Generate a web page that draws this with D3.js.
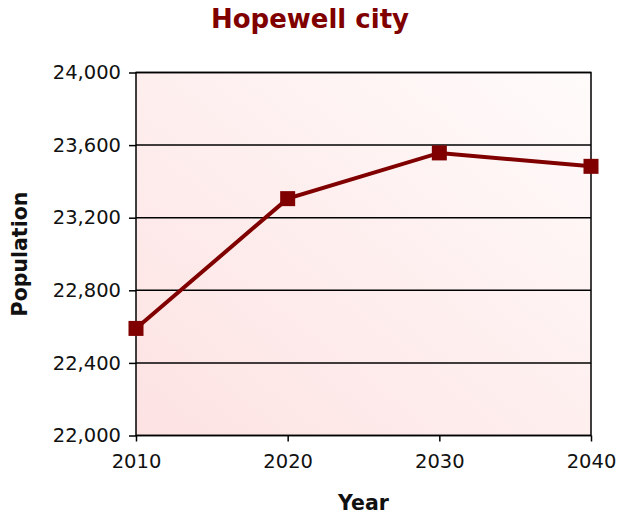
<!DOCTYPE html>
<html>
<head>
<meta charset="utf-8">
<script src="https://cdn.jsdelivr.net/npm/d3@7"></script>
<style>
  body { margin: 0; background: #fff; }
  text { font-family: "DejaVu Sans", Verdana, sans-serif; }
</style>
</head>
<body>
<svg id="chart"></svg>
<script>
// chart data
const years = [2010, 2020, 2030, 2040]
const population = [22590, 23305, 23557, 23483]
const yTicks = [22000, 22400, 22800, 23200, 23600, 24000]
const title = "Hopewell city"

const width = 618, height = 517
const margin = { top: 72.5, right: 27, bottom: 81.5, left: 136 }
const tickFont = 19.5

const svg = d3.select("#chart").attr("width", width).attr("height", height)

const x = d3.scaleLinear()
    .domain([2010, 2040])
    .range([margin.left, width - margin.right])
const y = d3.scaleLinear()
    .domain([22000, 24000])
    .range([height - margin.bottom, margin.top])

// background gradient, pink at bottom left fading to white top right
const defs = svg.append("defs")
const grad = defs.append("linearGradient")
    .attr("id", "bg")
    .attr("x1", "0%").attr("y1", "100%")
    .attr("x2", "100%").attr("y2", "0%")
grad.append("stop").attr("offset", "0%").attr("stop-color", "#fde2e2")
grad.append("stop").attr("offset", "100%").attr("stop-color", "#fffbfb")

svg.append("rect")
    .attr("x", x(2010)).attr("y", y(24000))
    .attr("width", x(2040) - x(2010))
    .attr("height", y(22000) - y(24000))
    .attr("fill", "url(#bg)")

// gridlines
svg.append("g").selectAll("line").data(yTicks).enter().append("line")
    .attr("x1", x(2010)).attr("x2", x(2040))
    .attr("y1", d => y(d)).attr("y2", d => y(d))
    .attr("stroke", "#000").attr("stroke-width", 1.5)

// y axis
const yAxis = d3.axisLeft(y).tickValues(yTicks).tickSize(7).tickPadding(8)
    .tickFormat(d3.format(","))
const yG = svg.append("g")
    .attr("transform", `translate(${x(2010)},0)`)
    .call(yAxis)
yG.select(".domain").remove()
yG.selectAll("line").attr("stroke-width", 1.5)
yG.selectAll("text").attr("fill", "#111")
    .style("font-size", tickFont + "px")
    .style("font-family", "'DejaVu Sans', Verdana, sans-serif")

// x axis
const xAxis = d3.axisBottom(x).tickValues(years).tickSize(6).tickPadding(13)
    .tickFormat(d3.format("d"))
const xG = svg.append("g")
    .attr("transform", `translate(0,${y(22000)})`)
    .call(xAxis)
xG.select(".domain").remove()
xG.selectAll("line").attr("stroke-width", 1.5)
xG.selectAll("text").attr("fill", "#111")
    .style("font-size", tickFont + "px")
    .style("font-family", "'DejaVu Sans', Verdana, sans-serif")

// plot frame
svg.append("rect")
    .attr("x", x(2010)).attr("y", y(24000))
    .attr("width", x(2040) - x(2010))
    .attr("height", y(22000) - y(24000))
    .attr("fill", "none").attr("stroke", "#000").attr("stroke-width", 1.5)

// line and markers
const pts = years.map((d, i) => [d, population[i]])
const line = d3.line().x(d => x(d[0])).y(d => y(d[1]))
svg.append("path")
    .datum(pts)
    .attr("d", line)
    .attr("fill", "none")
    .attr("stroke", "#800000")
    .attr("stroke-width", 4)

const ms = 15
svg.append("g").selectAll("rect").data(pts).enter().append("rect")
    .attr("x", d => x(d[0]) - ms / 2)
    .attr("y", d => y(d[1]) - ms / 2)
    .attr("width", ms).attr("height", ms)
    .attr("fill", "#800000")

// title and axis labels
svg.append("text")
    .attr("x", 310).attr("y", 28)
    .attr("text-anchor", "middle")
    .style("font-size", "26px").attr("font-weight", "bold")
    .attr("fill", "#800000")
    .text(title)

svg.append("text")
    .attr("x", (x(2010) + x(2040)) / 2).attr("y", 510)
    .attr("text-anchor", "middle")
    .style("font-size", "20.5px").attr("font-weight", "bold")
    .attr("fill", "#111")
    .text("Year")

svg.append("text")
    .attr("transform", `translate(27,${(y(22000) + y(24000)) / 2}) rotate(-90)`)
    .attr("text-anchor", "middle")
    .style("font-size", "20.5px").attr("font-weight", "bold")
    .attr("fill", "#111")
    .text("Population")
</script>
</body>
</html>
